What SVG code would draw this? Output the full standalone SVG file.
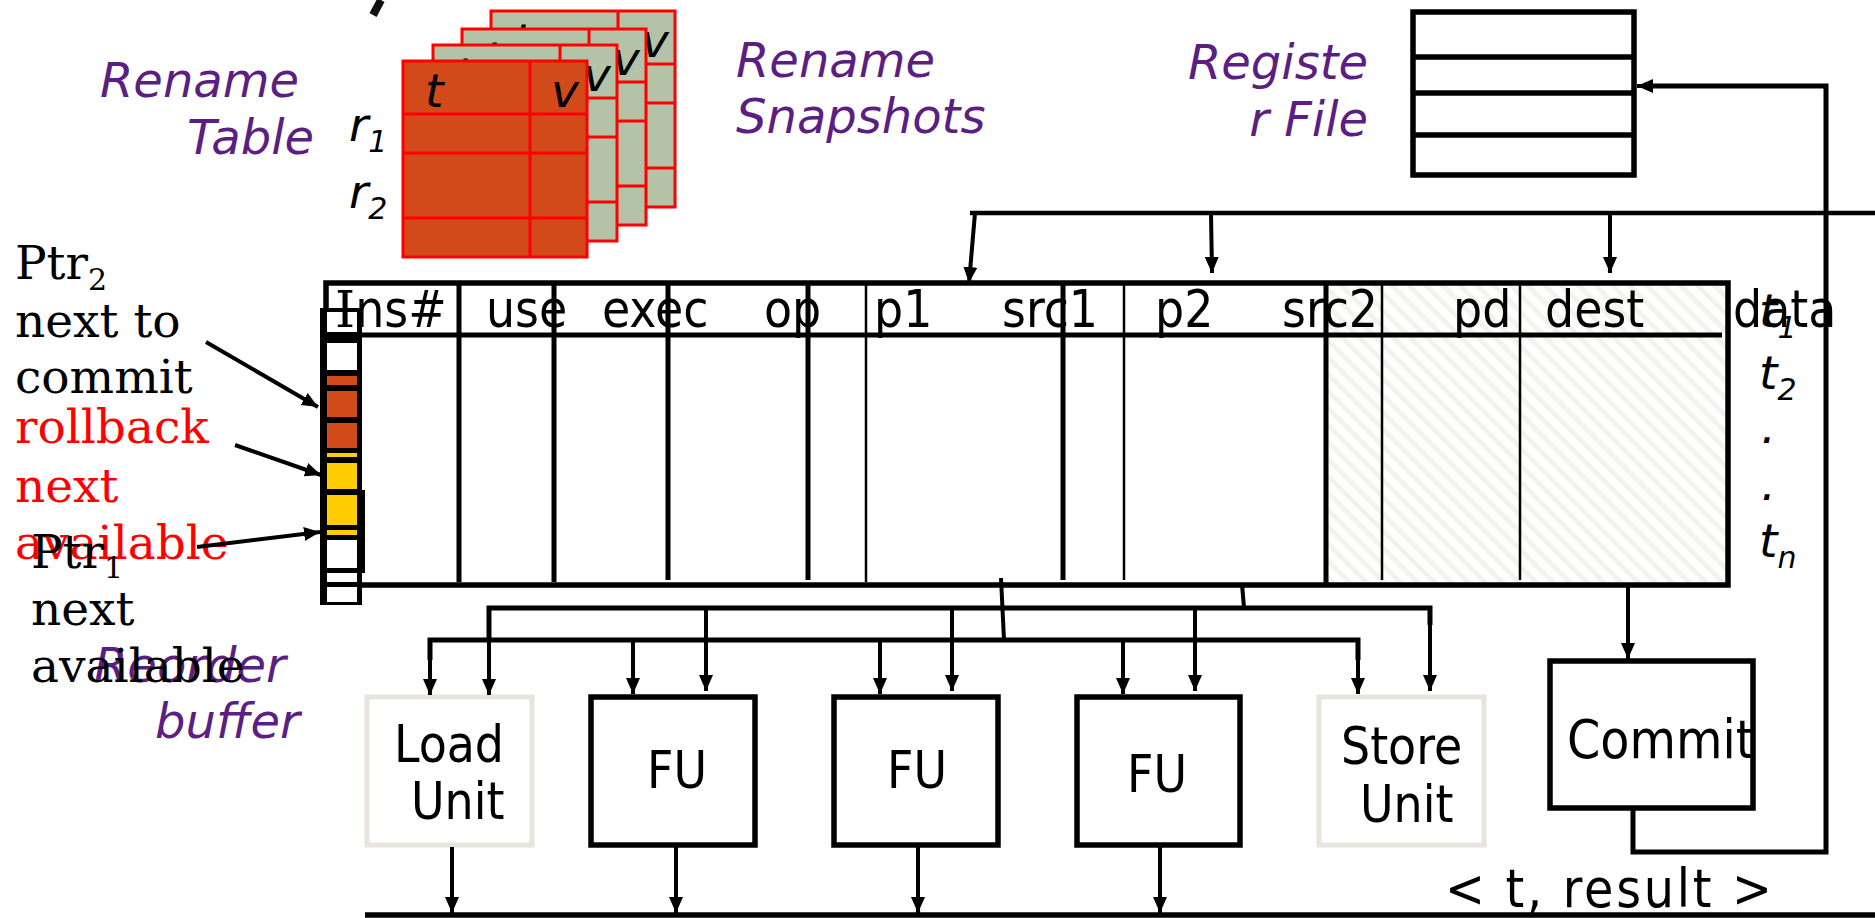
<svg xmlns="http://www.w3.org/2000/svg" width="1875" height="918" viewBox="0 0 1875 918">
<defs>
<style>
.cond{font-family:"DejaVu Sans Condensed","DejaVu Sans",sans-serif;font-stretch:condensed;fill:#000}
.hdr{font-size:51px}
.lab{font-family:"DejaVu Sans",sans-serif;font-style:italic;font-size:48px;fill:#5B1F84}
.it{font-family:"DejaVu Sans",sans-serif;font-style:italic;font-size:47px;fill:#000}
.ser{font-family:"DejaVu Serif",serif;font-size:47px}
.snapg{fill:#B4C3A7;stroke:#FF0000;stroke-width:3}
.snapf{fill:#D2491A;stroke:#FF0000;stroke-width:3}
.rl{stroke:#FF0000;stroke-width:3}
.k{stroke:#000;fill:none}
.box{fill:#fff;stroke:#000;stroke-width:5.5}
.pale{fill:#fff;stroke:#E8E4DC;stroke-width:5}
.ar{stroke:#000;stroke-width:4;fill:none;marker-end:url(#ah)}
</style>
<marker id="ah" markerUnits="userSpaceOnUse" markerWidth="18" markerHeight="14" refX="16" refY="7" orient="auto"><path d="M0,0 L16,7 L0,14 z" fill="#000"/></marker>
<pattern id="hatch" width="12" height="12" patternUnits="userSpaceOnUse" patternTransform="rotate(-45)"><rect width="12" height="12" fill="#fff"/><rect width="5" height="12" fill="#F3F2EC"/></pattern>
</defs>
<rect width="1875" height="918" fill="#fff"/>

<line x1="381" y1="0" x2="373" y2="15" stroke="#111" stroke-width="8"/>

<g id="rename-snapshots">
 <g id="snap3">
  <rect class="snapg" x="491" y="11" width="184" height="196"/>
  <line class="rl" x1="618" y1="11" x2="618" y2="207"/>
  <line class="rl" x1="491" y1="64" x2="675" y2="64"/>
  <line class="rl" x1="491" y1="103" x2="675" y2="103"/>
  <line class="rl" x1="491" y1="168" x2="675" y2="168"/>
  <text class="it" x="513" y="57">t</text><text class="it" x="641" y="57">v</text>
 </g>
 <g id="snap2">
  <rect class="snapg" x="462" y="29" width="184" height="196"/>
  <line class="rl" x1="589" y1="29" x2="589" y2="225"/>
  <line class="rl" x1="462" y1="82" x2="646" y2="82"/>
  <line class="rl" x1="462" y1="121" x2="646" y2="121"/>
  <line class="rl" x1="462" y1="186" x2="646" y2="186"/>
  <text class="it" x="484" y="75">t</text><text class="it" x="612" y="75">v</text>
 </g>
 <g id="snap1">
  <rect class="snapg" x="433" y="45" width="184" height="196"/>
  <line class="rl" x1="560" y1="45" x2="560" y2="241"/>
  <line class="rl" x1="433" y1="98" x2="617" y2="98"/>
  <line class="rl" x1="433" y1="137" x2="617" y2="137"/>
  <line class="rl" x1="433" y1="202" x2="617" y2="202"/>
  <text class="it" x="455" y="91">t</text><text class="it" x="583" y="91">v</text>
 </g>
</g>
<g id="rename-table">
 <rect class="snapf" x="403" y="61" width="184" height="196"/>
 <line class="rl" x1="530" y1="61" x2="530" y2="257"/>
 <line class="rl" x1="403" y1="114" x2="587" y2="114"/>
 <line class="rl" x1="403" y1="153" x2="587" y2="153"/>
 <line class="rl" x1="403" y1="218" x2="587" y2="218"/>
 <text class="it" x="425" y="107">t</text><text class="it" x="551" y="107">v</text>
 <text class="it" x="349" y="141">r<tspan font-size="30" dy="11">1</tspan></text>
 <text class="it" x="349" y="208">r<tspan font-size="30" dy="11">2</tspan></text>
</g>

<g id="labels">
 <text class="lab" x="100" y="97">Rename</text>
 <text class="lab" x="187" y="154">Table</text>
 <text class="lab" x="736" y="77">Rename</text>
 <text class="lab" x="736" y="133">Snapshots</text>
 <text class="lab" x="1368" y="79" text-anchor="end">Registe</text>
 <text class="lab" x="1368" y="136" text-anchor="end">r File</text>
 <text class="lab" x="94" y="682">Reorder</text>
 <text class="lab" x="155" y="738">buffer</text>
</g>

<g id="register-file">
 <rect class="box" x="1413" y="12" width="221" height="163"/>
 <line class="k" stroke-width="5.5" x1="1413" y1="57" x2="1634" y2="57"/>
 <line class="k" stroke-width="5.5" x1="1413" y1="93" x2="1634" y2="93"/>
 <line class="k" stroke-width="5.5" x1="1413" y1="135" x2="1634" y2="135"/>
</g>

<g id="reorder-buffer">
 <rect x="326" y="285" width="1400" height="300" fill="#fff"/>
 <rect x="1326" y="285" width="400" height="300" fill="url(#hatch)"/>
 <rect x="326" y="283" width="1402" height="302" fill="none" stroke="#000" stroke-width="5.5"/>
 <line class="k" stroke-width="5" x1="326" y1="335" x2="1722" y2="335"/>
 <g class="k" stroke-width="5">
  <line x1="459" y1="285" x2="459" y2="582"/>
  <line x1="554" y1="285" x2="554" y2="582"/>
  <line x1="668" y1="285" x2="668" y2="580"/>
  <line x1="808" y1="285" x2="808" y2="580"/>
  <line x1="1063" y1="285" x2="1063" y2="580"/>
  <line x1="1326" y1="285" x2="1326" y2="583"/>
 </g>
 <g class="k" stroke-width="2.5">
  <line x1="866" y1="285" x2="866" y2="582"/>
  <line x1="1124" y1="285" x2="1124" y2="580"/>
  <line x1="1382" y1="285" x2="1382" y2="580"/>
  <line x1="1520" y1="285" x2="1520" y2="580"/>
 </g>
 <g class="cond hdr">
  <text x="602" y="327">exec</text>
  <text x="486" y="327">use</text>
  <text x="764" y="327">op</text>
  <text x="874" y="327">p1</text>
  <text x="1002" y="327">src1</text>
  <text x="1155" y="327">p2</text>
  <text x="1282" y="327">src2</text>
  <text x="1453" y="327">pd</text>
  <text x="1545" y="327">dest</text>
  <text x="1733" y="327">data</text>
 </g>
 <g id="rob-pointer-column">
  <rect x="320" y="308" width="42" height="297" fill="#000"/>
  <rect x="357" y="490" width="8" height="83" fill="#000"/>
  <rect x="327" y="312" width="30" height="20" fill="#fff"/>
  <rect x="327" y="343" width="30" height="27" fill="#fff"/>
  <rect x="327" y="376" width="30" height="9" fill="#D2491A"/>
  <rect x="327" y="391" width="30" height="26" fill="#D2491A"/>
  <rect x="327" y="423" width="30" height="25" fill="#D2491A"/>
  <rect x="327" y="453" width="30" height="4" fill="#FFCC00"/>
  <rect x="327" y="463" width="30" height="26" fill="#FFCC00"/>
  <rect x="327" y="495" width="30" height="30" fill="#FFCC00"/>
  <rect x="327" y="530" width="30" height="5" fill="#FFCC00"/>
  <rect x="327" y="540" width="30" height="28" fill="#fff"/>
  <rect x="327" y="573" width="30" height="9" fill="#fff"/>
  <rect x="327" y="587" width="30" height="15" fill="#fff"/>
 </g>
 <text class="cond hdr" x="335" y="327"><tspan font-family="DejaVu Serif, serif" font-stretch="normal">I</tspan>ns#</text>
</g>

<g id="tag-labels">
 <text class="it" x="1759" y="327">t<tspan font-size="30" dy="11">1</tspan></text>
 <text class="it" x="1759" y="389">t<tspan font-size="30" dy="11">2</tspan></text>
 <text class="it" x="1761" y="443">.</text>
 <text class="it" x="1761" y="500">.</text>
 <text class="it" x="1759" y="557">t<tspan font-size="30" dy="11">n</tspan></text>
</g>

<g id="pointer-labels">
 <text class="ser" x="15" y="279">Ptr<tspan font-size="30" dy="11">2</tspan></text>
 <text class="ser" x="15" y="337">next to</text>
 <text class="ser" x="15" y="393">commit</text>
 <text class="ser" x="15" y="443" fill="#FF0000">rollback</text>
 <text class="ser" x="15" y="502" fill="#FF0000">next</text>
 <text class="ser" x="15" y="559" fill="#FF0000">available</text>
 <text class="ser" x="31" y="568">Ptr<tspan font-size="30" dy="10">1</tspan></text>
 <text class="ser" x="31" y="625">next</text>
 <text class="ser" x="31" y="682">available</text>
</g>

<g id="load-unit">
 <rect class="pale" x="367" y="697" width="165" height="148"/>
 <text class="cond" font-size="51" x="394" y="762">Load</text>
 <text class="cond" font-size="51" x="411" y="819">Unit</text>
</g>
<g id="fu1">
 <rect class="box" x="591" y="697" width="164" height="148"/>
 <text class="cond" font-size="51" x="647" y="788">FU</text>
</g>
<g id="fu2">
 <rect class="box" x="834" y="697" width="164" height="148"/>
 <text class="cond" font-size="51" x="887" y="788">FU</text>
</g>
<g id="fu3">
 <rect class="box" x="1077" y="697" width="163" height="148"/>
 <text class="cond" font-size="51" x="1127" y="792">FU</text>
</g>
<g id="store-unit">
 <rect class="pale" x="1319" y="697" width="165" height="148"/>
 <text class="cond" font-size="51" x="1341" y="764">Store</text>
 <text class="cond" font-size="51" x="1360" y="822">Unit</text>
</g>
<g id="commit">
 <rect class="box" x="1550" y="661" width="203" height="147"/>
 <text class="cond" font-size="53" x="1567" y="758">Commit</text>
</g>
<text class="cond" font-size="53" x="1445" y="907" textLength="327" lengthAdjust="spacing">&lt; t, result &gt;</text>

<g id="connectors">
 <polyline class="k" stroke-width="4.5" points="970,213 1875,213"/>
 <line class="ar" x1="975" y1="213" x2="969" y2="283"/>
 <line class="ar" x1="1211" y1="213" x2="1212" y2="273"/>
 <line class="ar" x1="1610" y1="213" x2="1610" y2="273"/>

 <line class="ar" x1="206" y1="342" x2="318" y2="407"/>
 <line class="ar" x1="235" y1="445" x2="321" y2="475"/>
 <line class="ar" x1="197" y1="547" x2="320" y2="532"/>

 <line class="k" stroke-width="4" x1="1001" y1="578" x2="1004" y2="640"/>
 <line class="k" stroke-width="4" x1="1242" y1="584" x2="1244" y2="608"/>
 <polyline class="k" stroke-width="5" points="489,640 489,608 1430,608 1430,625"/>
 <polyline class="k" stroke-width="5" points="430,660 430,640 1358,640 1358,660"/>
 <line class="ar" x1="489" y1="608" x2="489" y2="695"/>
 <line class="ar" x1="706" y1="608" x2="706" y2="691"/>
 <line class="ar" x1="952" y1="608" x2="952" y2="691"/>
 <line class="ar" x1="1195" y1="608" x2="1195" y2="691"/>
 <line class="ar" x1="1430" y1="608" x2="1430" y2="691"/>
 <line class="ar" x1="430" y1="640" x2="430" y2="695"/>
 <line class="ar" x1="633" y1="640" x2="633" y2="694"/>
 <line class="ar" x1="880" y1="640" x2="880" y2="694"/>
 <line class="ar" x1="1123" y1="640" x2="1123" y2="694"/>
 <line class="ar" x1="1358" y1="640" x2="1358" y2="694"/>

 <line class="ar" x1="1628" y1="587" x2="1628" y2="659"/>
 <polyline class="k" stroke-width="5" points="1633,808 1633,852 1826,852 1826,86 1650,86"/>
 <line class="ar" stroke-width="5" x1="1826" y1="86" x2="1637" y2="86"/>

 <line class="k" stroke-width="5.5" x1="365" y1="915" x2="1875" y2="915"/>
 <line class="ar" x1="452" y1="847" x2="452" y2="913"/>
 <line class="ar" x1="676" y1="847" x2="676" y2="913"/>
 <line class="ar" x1="918" y1="847" x2="918" y2="913"/>
 <line class="ar" x1="1160" y1="847" x2="1160" y2="913"/>
</g>
</svg>
